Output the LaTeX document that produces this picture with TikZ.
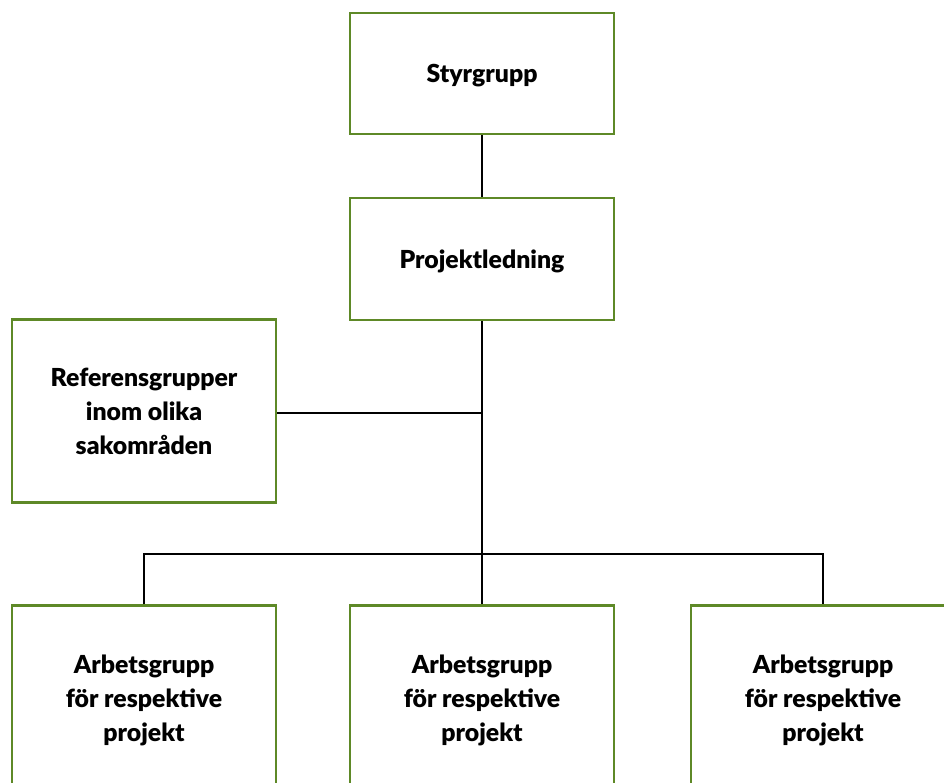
\documentclass[tikz,border=0pt]{standalone}
\usepackage{fontspec}
\setmainfont{Lato}[BoldFont={Lato Black}]
\definecolor{boxgreen}{RGB}{94,137,39}
\begin{document}
\begin{tikzpicture}[x=1pt,y=-1pt,
  orgbox/.style={draw=boxgreen, line width=2.4pt, fill=white, minimum width=264pt,
    align=center, inner sep=0pt, text depth=0pt, font=\fontsize{24.8}{34}\selectfont\bfseries},
  conn/.style={draw=black, line width=1.8pt}]
\useasboundingbox (0,0) rectangle (944,782);
\node[orgbox, minimum height=121pt] (styr) at (482,73.5) {Styrgrupp};
\node[orgbox, minimum height=122pt] (proj) at (482,259) {Projektledning};
\node[orgbox, minimum height=183pt] (ref) at (144,411) {Referensgrupper\\inom olika\\sakområden};
\node[orgbox, minimum height=185pt] (a1) at (144,698) {Arbetsgrupp\\för respektive\\projekt};
\node[orgbox, minimum height=185pt] (a2) at (482,698) {Arbetsgrupp\\för respektive\\projekt};
\node[orgbox, minimum height=185pt] (a3) at (823,698) {Arbetsgrupp\\för respektive\\projekt};
\coordinate (bar) at (482,554);
\coordinate (refjoin) at (482,413);
\draw[conn] (styr.south) -- (proj.north);
\draw[conn] (proj.south) -- (a2.north);
\draw[conn] (ref.east |- refjoin) -- (refjoin);
\draw[conn] (a1.north) |- (bar) -| (a3.north);
\end{tikzpicture}
\end{document}
